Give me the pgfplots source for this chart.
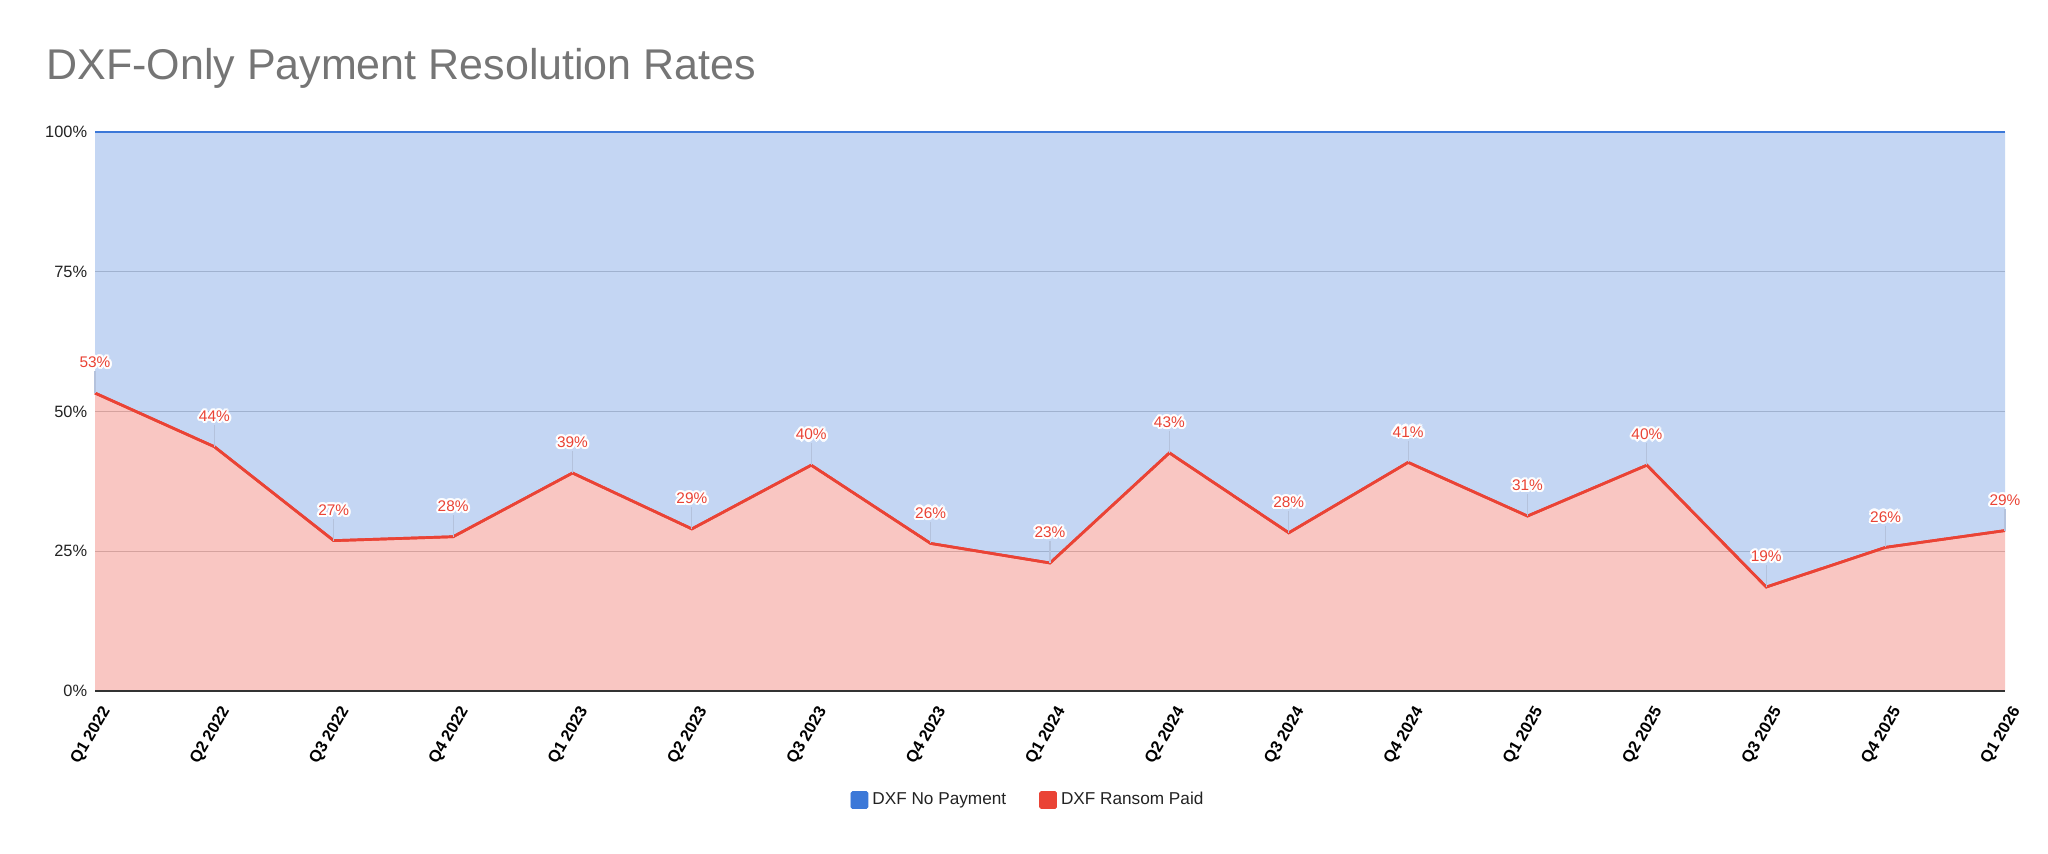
\documentclass[border=0pt]{standalone}
\usepackage{fontspec}
\setmainfont{Liberation Sans}
\usepackage{pgfplots}
\pgfplotsset{compat=1.18}
\usepackage{pgfplotstable}
\usepgfplotslibrary{fillbetween}
\definecolor{cblue}{HTML}{3C78D8}
\definecolor{cred}{HTML}{EA4335}
\definecolor{cgrid}{HTML}{CCCCCC}
\definecolor{ctitle}{HTML}{757575}
\definecolor{ctext}{HTML}{222222}
\definecolor{cbase}{HTML}{333333}
\definecolor{clead}{HTML}{B4C2DC}

\pgfplotstableread{
x y
0 53.3
1 43.7
2 26.9
3 27.6
4 39.0
5 29.0
6 40.4
7 26.4
8 22.9
9 42.6
10 28.3
11 40.9
12 31.3
13 40.4
14 18.6
15 25.7
16 28.7
}\paid

\pgfplotsset{
  lbl/.style={draw=none, mark=none, forget plot, point meta=y,
    nodes near coords={\pgfmathprintnumber[fixed,precision=0]{\pgfplotspointmeta}\%},
    every node near coord/.append style={anchor=center, yshift=15.3pt, font=\fontsize{7.7}{9}\selectfont, inner sep=0pt}},
}

\begin{document}
\begin{tikzpicture}
\node[anchor=west, text=ctitle, font=\fontsize{21.5}{26}\selectfont, inner sep=0pt] at (23pt,392.5pt) {DXF-Only Payment Resolution Rates};
\begin{axis}[
 at={(47.5pt,81pt)}, anchor=south west, scale only axis,
 width=955pt, height=279.5pt,
 xmin=0, xmax=16, ymin=0, ymax=100,
 xtick={0,...,16},
 xticklabels={Q1 2022,Q2 2022,Q3 2022,Q4 2022,Q1 2023,Q2 2023,Q3 2023,Q4 2023,Q1 2024,Q2 2024,Q3 2024,Q4 2024,Q1 2025,Q2 2025,Q3 2025,Q4 2025,Q1 2026},
 ytick={0,25,50,75,100},
 yticklabels={0\%,25\%,50\%,75\%,100\%},
 axis line style={draw=none},
 major tick length=0pt,
 ymajorgrids, grid style={cgrid, line width=0.6pt},
 clip=false,
 /pgf/number format/assume math mode=true,
 yticklabel style={font=\fontsize{8.2}{10}\selectfont, text=ctext, anchor=east, inner sep=0pt, xshift=-3.75pt},
 xticklabel style={xshift=6pt, yshift=-8.5pt, rotate=60, anchor=east, inner sep=0pt, font=\bfseries\fontsize{8.2}{10}\selectfont, text=black},
 legend style={at={(axis description cs:0.489,-0.195)}, anchor=center, draw=none, fill=none,
   font=\fontsize{8.6}{10}\selectfont, text=ctext,
   /tikz/every odd column/.append style={column sep=0pt},
   /tikz/every even column/.append style={column sep=14.5pt}},
 legend columns=2,
 legend cell align=left,
]
\addplot[name path=top, cblue, line width=1pt, forget plot] coordinates {(0,100) (16,100)};
\addplot[name path=red, cred, line width=1.35pt, forget plot] table[x=x,y=y]{\paid};
\addplot[name path=bot, cbase, line width=1pt, forget plot] coordinates {(0,0) (16,0)};
\addplot[fill=cblue, fill opacity=0.3, forget plot] fill between[of=top and red];
\addplot[fill=cred, fill opacity=0.3, forget plot] fill between[of=red and bot];
\addplot[cred, line width=1.35pt, mark=none, forget plot,
  error bars/y dir=plus, error bars/y fixed=3.9, error bars/error mark=none,
  error bars/error bar style={draw=clead, line width=0.55pt}]
  table[x=x,y=y]{\paid};
\pgfplotsinvokeforeach{0,30,...,330}{
  \addplot[lbl, every node near coord/.append style={text=white, xshift={1.1pt*cos(#1)}, yshift={1.1pt*sin(#1)}}] table[x=x,y=y]{\paid};
}
\pgfplotsinvokeforeach{0,45,...,315}{
  \addplot[lbl, every node near coord/.append style={text=white, xshift={0.55pt*cos(#1)}, yshift={0.55pt*sin(#1)}}] table[x=x,y=y]{\paid};
}
\addplot[lbl, every node near coord/.append style={text=cred}] table[x=x,y=y]{\paid};
\addlegendimage{legend image code/.code={\fill[cblue, rounded corners=0.8pt] (0pt,-4.25pt) rectangle (8.5pt,4.25pt);}}
\addlegendentry{DXF No Payment}
\addlegendimage{legend image code/.code={\fill[cred, rounded corners=0.8pt] (0pt,-4.25pt) rectangle (8.5pt,4.25pt);}}
\addlegendentry{DXF Ransom Paid}
\end{axis}
\path (0,0) rectangle (1024pt,426.5pt);
\end{tikzpicture}
\end{document}
